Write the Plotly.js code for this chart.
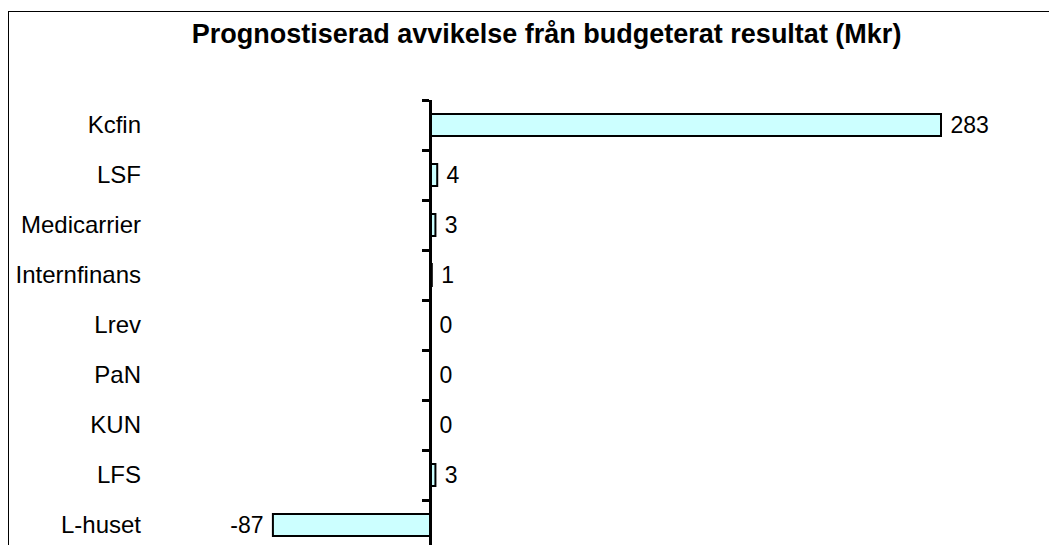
<!DOCTYPE html>
<html>
<head>
<meta charset="utf-8">
<script src="https://cdn.plot.ly/plotly-3.0.1.min.js"></script>
<style>
  html, body { margin: 0; padding: 0; width: 1049px; height: 545px; overflow: hidden; background: #fff; }
  #frame { position: absolute; left: 8px; top: 11px; width: 1200px; height: 700px; border: 1px solid #000; box-sizing: border-box; pointer-events: none; z-index: 2; }
  #chart { position: absolute; left: 0; top: 0; width: 1049px; height: 560px; }
</style>
</head>
<body>
<div id="chart"></div>
<div id="frame"></div>
<script>
const categories = ["Kcfin", "LSF", "Medicarrier", "Internfinans", "Lrev", "PaN", "KUN", "LFS", "L-huset"];
const values = [283, 4, 3, 1, 0, 0, 0, 3, -87];
const titleText = "Prognostiserad avvikelse från budgeterat resultat (Mkr)";

const FONT = "Liberation Sans, Arial, sans-serif";
const plotLeft = 142, plotRight = 1000, zeroPx = 430, pxPerUnit = 511 / 283;
const xRange = [-(zeroPx - plotLeft) / pxPerUnit, (plotRight - zeroPx) / pxPerUnit];
const zeroPos = (0 - xRange[0]) / (xRange[1] - xRange[0]);
const yRange = [categories.length - 0.5, -0.5];
const NB = "\u00A0";
const labels = values.map(v => NB + String(v) + NB);

const traces = [
  {
    type: "bar",
    orientation: "h",
    x: values,
    y: categories,
    width: 0.44,
    marker: { color: "#CCFFFF", line: { color: "#000000", width: 2 } },
    text: labels,
    textposition: "outside",
    constraintext: "none",
    textfont: { family: FONT, size: 23, color: "#000" },
    cliponaxis: false,
    hoverinfo: "x+y",
    showlegend: false
  },
  {
    type: "scatter",
    mode: "markers",
    x: values,
    y: categories,
    yaxis: "y2",
    marker: { opacity: 0 },
    hoverinfo: "skip",
    showlegend: false
  }
];

const layout = {
  width: 1049,
  height: 560,
  margin: { l: plotLeft, r: 1049 - plotRight, t: 100, b: 10 },
  paper_bgcolor: "rgba(0,0,0,0)",
  plot_bgcolor: "rgba(0,0,0,0)",
  font: { family: FONT, size: 23, color: "#000" },
  title: {
    text: "<b>" + titleText + "</b>",
    font: { family: FONT, size: 27, color: "#000" },
    x: 0.521, xref: "container", xanchor: "center",
    y: 1 - 34 / 560, yref: "container", yanchor: "middle"
  },
  xaxis: {
    range: xRange,
    showgrid: false, zeroline: false, showline: false,
    showticklabels: false, ticks: ""
  },
  yaxis: {
    type: "category",
    categoryarray: categories,
    categoryorder: "array",
    range: yRange,
    showgrid: false, zeroline: false, showline: false,
    ticks: "",
    tickfont: { family: FONT, size: 24, color: "#000" }
  },
  yaxis2: {
    type: "category",
    categoryarray: categories,
    categoryorder: "array",
    range: yRange,
    overlaying: "y",
    anchor: "free",
    position: zeroPos,
    side: "left",
    showgrid: false, zeroline: false,
    showline: true, linecolor: "#000", linewidth: 3,
    ticks: "outside", tickson: "boundaries", ticklen: 7, tickwidth: 3, tickcolor: "#000",
    showticklabels: false
  },
  bargap: 0.56
};

Plotly.newPlot("chart", traces, layout, { displayModeBar: false, staticPlot: true });
</script>
</body>
</html>
